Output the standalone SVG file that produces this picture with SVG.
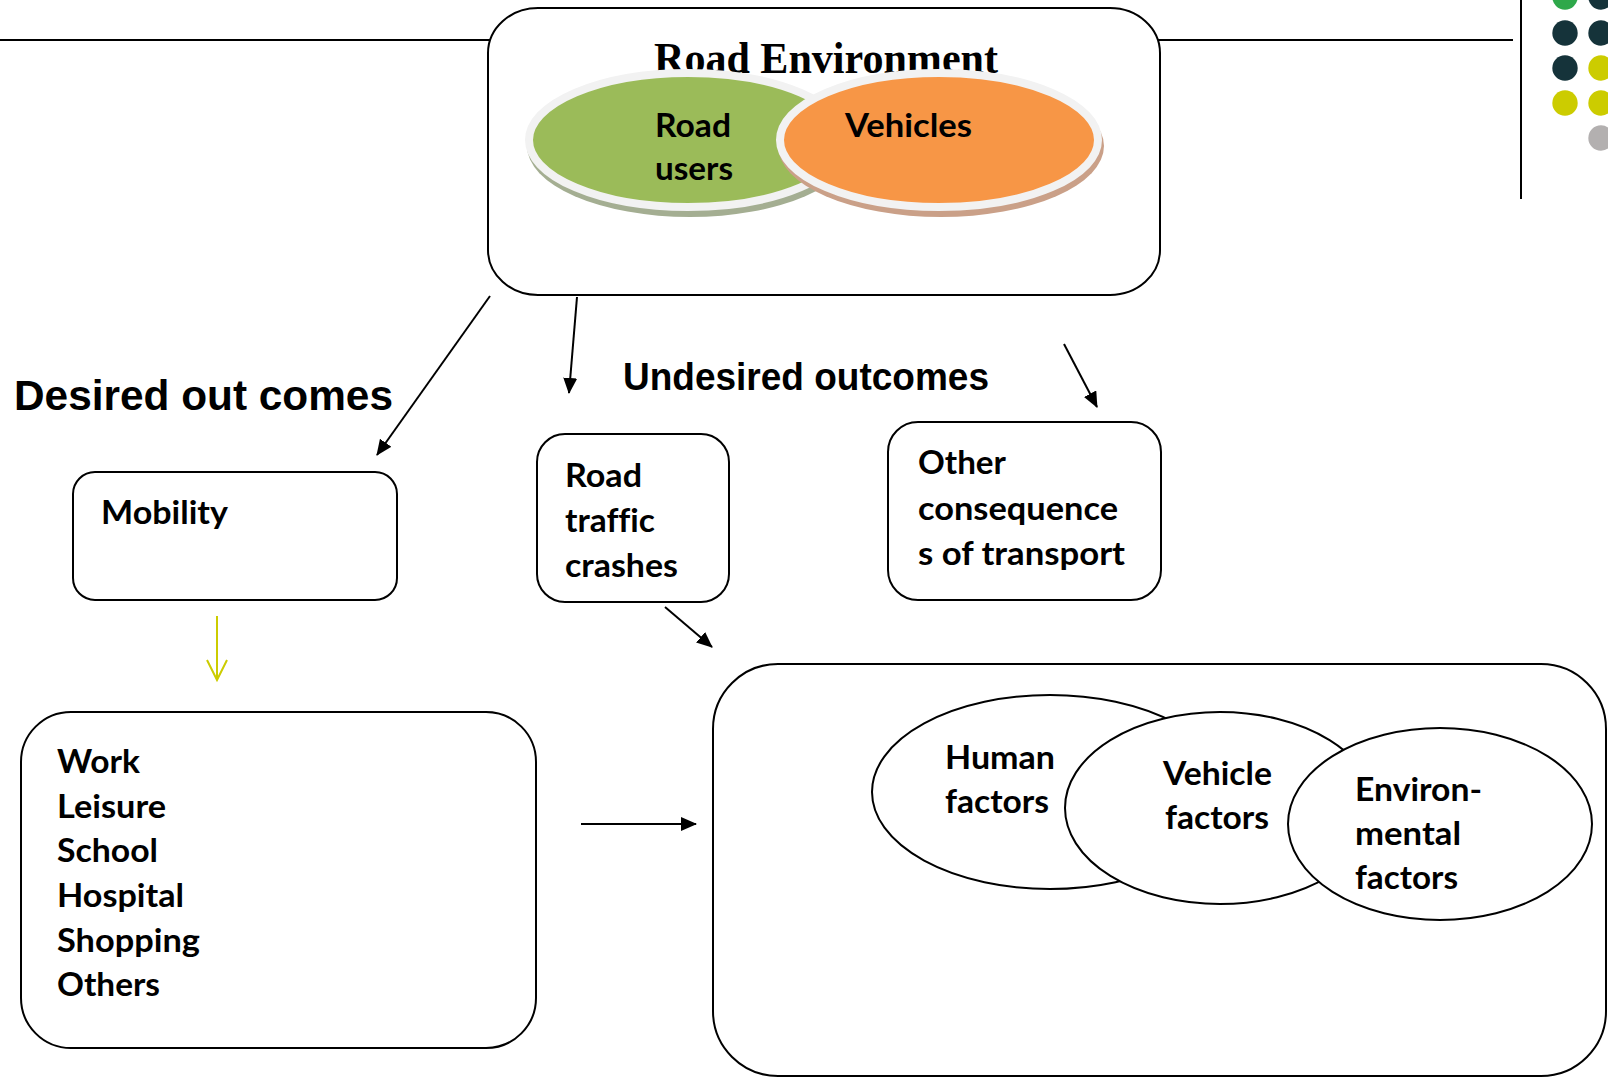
<svg xmlns="http://www.w3.org/2000/svg" width="1608" height="1078" viewBox="0 0 1608 1078">
<defs>
<style>
.box{fill:#fff;stroke:#000;stroke-width:2}
.lbl{font-family:Lato,"Liberation Sans",sans-serif;font-weight:bold;font-size:32px;fill:#000;font-variant-ligatures:none}
.hdr{font-family:"Liberation Sans",Arial,sans-serif;font-weight:bold;fill:#000}
.conn{stroke:#000;stroke-width:2;fill:none}
.fac{fill:#fff;stroke:#000;stroke-width:2}
.rule{stroke:#000;stroke-width:2}
.venn{stroke:#f2f2f2;stroke-width:8}
</style>
<marker id="ah" markerUnits="userSpaceOnUse" markerWidth="16" markerHeight="14" refX="15" refY="7" orient="auto">
<path d="M0,0 L16,7 L0,14 z" fill="#000"/>
</marker>
<marker id="ahy" markerUnits="userSpaceOnUse" markerWidth="24" markerHeight="24" refX="21" refY="11" orient="auto" overflow="visible">
<path d="M1,1 L21,11 L1,21" fill="none" stroke="#cccc00" stroke-width="2"/>
</marker>
</defs>
<rect x="0" y="0" width="1608" height="1078" fill="#fff"/>

<g id="decoration">
<line class="rule" x1="0" y1="40" x2="1513" y2="40"/>
<line class="rule" x1="1521" y1="0" x2="1521" y2="199"/>
<circle cx="1565" cy="-3" r="12.7" fill="#2ea84a"/>
<circle cx="1601" cy="-3" r="12.7" fill="#15333a"/>
<circle cx="1565" cy="33" r="12.7" fill="#15333a"/>
<circle cx="1601" cy="33" r="12.7" fill="#15333a"/>
<circle cx="1565" cy="68" r="12.7" fill="#15333a"/>
<circle cx="1601" cy="68" r="12.7" fill="#cccc00"/>
<circle cx="1565" cy="103" r="12.7" fill="#cccc00"/>
<circle cx="1601" cy="103" r="12.7" fill="#cccc00"/>
<circle cx="1601" cy="138" r="12.7" fill="#b3b0b0"/>
</g>

<g id="road-environment">
<rect class="box" x="488" y="8" width="672" height="287" rx="50" ry="45"/>
<text x="654" y="73" font-family="'Liberation Serif','Times New Roman',serif" font-weight="bold" font-size="44" textLength="344" lengthAdjust="spacingAndGlyphs">Road Environment</text>
<ellipse cx="690" cy="146" rx="163" ry="71" fill="#a4ae92"/>
<ellipse class="venn" cx="688" cy="140" rx="159" ry="67" fill="#9bbb59"/>
<ellipse cx="941" cy="146" rx="163" ry="71" fill="#caa088"/>
<ellipse class="venn" cx="939" cy="140" rx="159" ry="67" fill="#f79646"/>
<text class="lbl" x="655" y="137" textLength="76" lengthAdjust="spacingAndGlyphs">Road</text>
<text class="lbl" x="655" y="180" textLength="78" lengthAdjust="spacingAndGlyphs">users</text>
<text class="lbl" x="845" y="137" textLength="127" lengthAdjust="spacingAndGlyphs">Vehicles</text>
</g>

<g id="headings">
<text class="hdr" x="14" y="410" font-size="42" textLength="379" lengthAdjust="spacingAndGlyphs">Desired out comes</text>
<text class="hdr" x="623" y="390" font-size="38" textLength="366" lengthAdjust="spacingAndGlyphs">Undesired outcomes</text>
</g>

<g id="mobility">
<rect class="box" x="73" y="472" width="324" height="128" rx="22"/>
<text class="lbl" x="101" y="524" textLength="127" lengthAdjust="spacingAndGlyphs">Mobility</text>
</g>

<g id="road-traffic-crashes">
<rect class="box" x="537" y="434" width="192" height="168" rx="28"/>
<text class="lbl" x="565" y="487" textLength="77" lengthAdjust="spacingAndGlyphs">Road</text>
<text class="lbl" x="565" y="532" textLength="90" lengthAdjust="spacingAndGlyphs">traffic</text>
<text class="lbl" x="565" y="577" textLength="113" lengthAdjust="spacingAndGlyphs">crashes</text>
</g>

<g id="other-consequences">
<rect class="box" x="888" y="422" width="273" height="178" rx="30"/>
<text class="lbl" x="918" y="474" textLength="88" lengthAdjust="spacingAndGlyphs">Other</text>
<text class="lbl" x="918" y="520" textLength="200" lengthAdjust="spacingAndGlyphs">consequence</text>
<text class="lbl" x="918" y="565" textLength="207" lengthAdjust="spacingAndGlyphs">s of transport</text>
</g>

<g id="purposes">
<rect class="box" x="21" y="712" width="515" height="336" rx="50"/>
<text class="lbl" x="57" y="773" textLength="83" lengthAdjust="spacingAndGlyphs">Work</text>
<text class="lbl" x="57" y="818" textLength="109" lengthAdjust="spacingAndGlyphs">Leisure</text>
<text class="lbl" x="57" y="862" textLength="101" lengthAdjust="spacingAndGlyphs">School</text>
<text class="lbl" x="57" y="907" textLength="127" lengthAdjust="spacingAndGlyphs">Hospital</text>
<text class="lbl" x="57" y="952" textLength="143" lengthAdjust="spacingAndGlyphs">Shopping</text>
<text class="lbl" x="57" y="996" textLength="103" lengthAdjust="spacingAndGlyphs">Others</text>
</g>

<g id="factors">
<rect class="box" x="713" y="664" width="893" height="412" rx="65"/>
<g id="human-factors">
<ellipse class="fac" cx="1050" cy="792" rx="178" ry="97"/>
<text class="lbl" x="945" y="769" textLength="110" lengthAdjust="spacingAndGlyphs">Human</text>
<text class="lbl" x="945" y="813" textLength="104" lengthAdjust="spacingAndGlyphs">factors</text>
</g>
<g id="vehicle-factors">
<ellipse class="fac" cx="1220" cy="808" rx="155" ry="96"/>
<text class="lbl" x="1163" y="785" textLength="109" lengthAdjust="spacingAndGlyphs">Vehicle</text>
<text class="lbl" x="1165" y="829" textLength="104" lengthAdjust="spacingAndGlyphs">factors</text>
</g>
<g id="environmental-factors">
<ellipse class="fac" cx="1440" cy="824" rx="152" ry="96"/>
<text class="lbl" x="1355" y="801" textLength="127" lengthAdjust="spacingAndGlyphs">Environ-</text>
<text class="lbl" x="1355" y="845" textLength="106" lengthAdjust="spacingAndGlyphs">mental</text>
<text class="lbl" x="1355" y="889" textLength="103" lengthAdjust="spacingAndGlyphs">factors</text>
</g>
</g>

<g id="connectors">
<line class="conn" x1="490" y1="296" x2="377" y2="455" marker-end="url(#ah)"/>
<line class="conn" x1="577" y1="297" x2="569" y2="393" marker-end="url(#ah)"/>
<line class="conn" x1="1064" y1="344" x2="1097" y2="407" marker-end="url(#ah)"/>
<line class="conn" x1="665" y1="607" x2="712" y2="647" marker-end="url(#ah)"/>
<line class="conn" x1="581" y1="824" x2="696" y2="824" marker-end="url(#ah)"/>
<line x1="217" y1="616" x2="217" y2="680" stroke="#cccc00" stroke-width="2" marker-end="url(#ahy)"/>
</g>
</svg>
